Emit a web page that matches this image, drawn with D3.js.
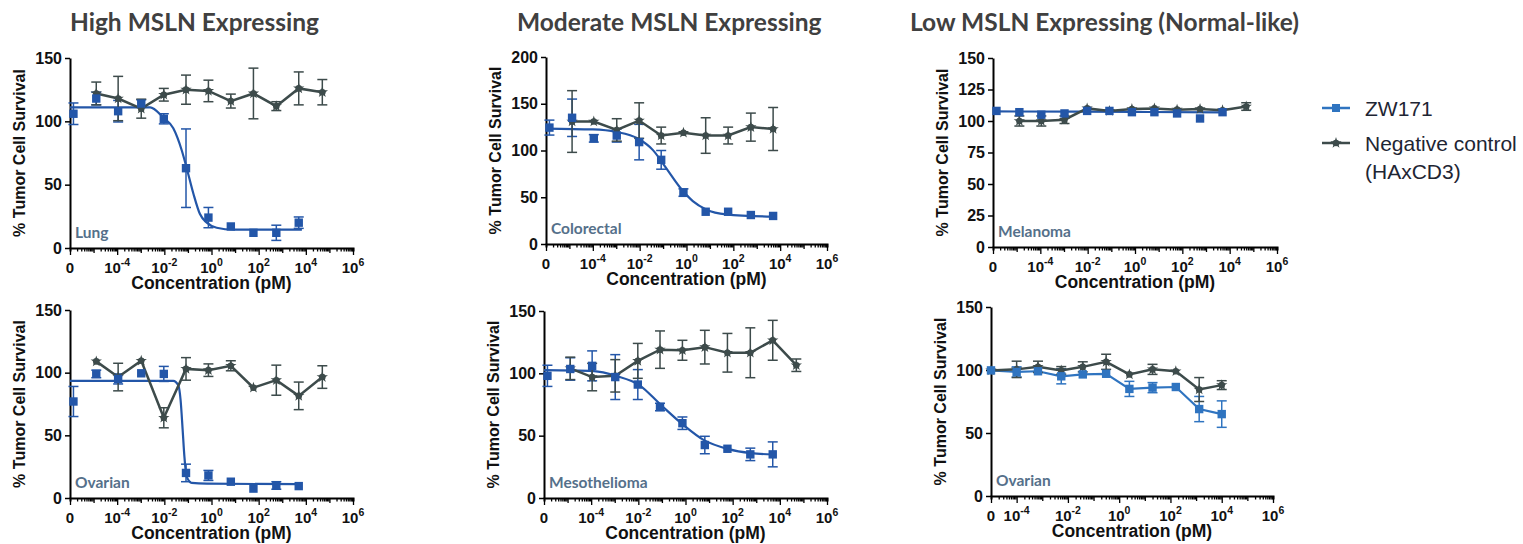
<!DOCTYPE html>
<html lang="en">
<head>
<meta charset="utf-8">
<script src="https://cdn.jsdelivr.net/npm/d3@7"></script>
<style>
  body { margin: 0; background: #fff; }
  svg text { font-family: "Liberation Sans", Arial, sans-serif; }
</style>
</head>
<body>
<script>

// concentrations (pM)
var concA = [1.3e-5, 1.1e-4, 1.05e-3, 9.5e-3, 8.3e-2, 0.74, 6.6, 60, 560, 5000, 50000];
var concB = [1e-4, 6.8e-4, 5.5e-3, 3.8e-2, 0.31, 2.5, 20, 162, 1320, 1e4];

var xTickExp = [-4, -2, 0, 2, 4, 6];

var titles = ["High MSLN Expressing", "Moderate MSLN Expressing", "Low MSLN Expressing (Normal-like)"];
var cellLines = ["Lung", "Colorectal", "Melanoma", "Ovarian", "Mesothelioma", "Ovarian"];
var legendLabels = ["ZW171", "Negative control", "(HAxCD3)"];

// Lung
var zwLung = [106, 118, 108, 114, 102, 63, 24, 17, 12, 12, 20];
var zwLungErr = [8.5, 5, 8.5, 3, 4, 31, 8, 2, 2, 6, 4.5];
var ctlLung = [122, 118, 110, 121, 125, 124, 116, 122, 112, 126, 123];
var ctlLungErr = [9, 17.5, 7.5, 5, 11.5, 8.5, 5.5, 20, 3.5, 13, 10];
var fitLung = [[1e-6, 111], [2.5e-3, 111], [9e-3, 103], [2.4e-2, 94.5], [5.5e-2, 77], [8.9e-2, 63],
  [0.17, 43], [0.32, 27], [0.63, 20], [1.66, 16], [8.5, 14.5], [6800, 14.5]];

// Colorectal
var zwColo = [124.5, 135, 113, 116, 109, 90, 55, 34.5, 34.5, 31, 30];
var zwColoErr = [8, 20, 4, 7, 19, 10, 4, 2, 2, 2, 2];
var ctlColo = [131, 131, 122, 132, 116, 119, 116, 116, 125, 123];
var ctlColoErr = [33, 2, 12, 19, 9, 2, 19, 9, 15, 23];
var fitColo = [[1e-6, 123.5], [1e-4, 122.5], [9.5e-4, 120], [8.5e-3, 112.8], [3.7e-2, 100.4], [0.138, 80.8],
  [0.5, 61.2], [1.86, 45.9], [6.9, 37], [49, 31.7], [4700, 29.2]];

// Melanoma
var zwMela = [108, 107, 105, 106, 108, 108, 107, 107, 106, 102, 107];
var zwMelaErr = [2, 2, 2, 2, 2, 2, 2, 2, 2, 2, 2];
var ctlMela = [100, 100, 101, 110, 108, 109.5, 110, 109, 109.5, 108.5, 111.5];
var ctlMelaErr = [4, 4, 3, 2, 2, 2, 2, 2, 2, 2, 3];
var fitMela = [[1e-6, 107.6], [1, 107.2], [5000, 106.8]];

// Ovarian (high)
var zwOva = [77, 99, 95, 99.5, 99, 20, 18, 13, 7.5, 10, 9.5];
var zwOvaErr = [12, 3, 4, 2, 6, 7, 4, 2, 2, 3, 2];
var ctlOva = [109, 96.5, 109.5, 64, 103, 102, 105.5, 88, 94, 81.5, 96.5];
var ctlOvaErr = [2, 11, 2, 8, 9, 5, 4, 2, 12, 11, 9];
var fitOva = [[1e-6, 93.5], [0.024, 93.5], [0.039, 90], [0.049, 78], [0.06, 54], [0.071, 33],
  [0.089, 17], [0.145, 12], [0.63, 11.4], [5000, 11]];

// Mesothelioma
var zwMeso = [98, 103.5, 106, 97, 91, 73, 60, 42.5, 39.5, 35, 35];
var zwMesoErr = [8.5, 9, 12, 18, 12, 3, 5, 7, 2, 5, 10];
var ctlMeso = [104, 97, 98, 110, 119, 118.5, 121, 116.5, 116.5, 126.5, 106.5];
var ctlMesoErr = [9, 11, 13, 14, 15, 8, 13.5, 15.5, 20, 16, 5];
var fitMeso = [[1e-6, 102.5], [1.3e-4, 101.8], [1.2e-3, 97.8], [1.1e-2, 90.6], [9.1e-2, 74.6],
  [0.81, 58.6], [5.8, 46.6], [66, 39.2], [600, 36], [5200, 34.9]];

// Ovarian (low)
var zwOva2 = [99.7, 98.5, 99, 95, 96.5, 97, 85, 86, 86.5, 69, 65];
var zwOva2Err = [1, 4, 2, 6, 2, 2, 6, 4, 2, 10, 10.5];
var ctlOva2 = [99.7, 100.5, 102.5, 99.7, 102.5, 106.5, 96.5, 100.5, 99, 84.5, 88];
var ctlOva2Err = [1, 6.5, 4.5, 3, 4, 6, 2, 4, 2, 9.5, 3.5];

var blue = "#2356a8";
var blueLight = "#2f74c0";
var gray = "#3d4b4b";
var labelColor = "#55708a";

var w = 1523, h = 544;

var svg = d3.select("body").append("svg")
  .attr("width", w)
  .attr("height", h);

function zip(xs, ys, es) {
  return xs.map(function(c, i) { return { c: c, v: ys[i], e: es ? es[i] : 0 }; });
}

var panels = [
  { left: 70, right: 353, top: 58, bottom: 248, yMax: 150, yTicks: [0, 50, 100, 150], xMin: 1e-6, label: cellLines[0],
    zw: zip([1.4e-6].concat(concA.slice(0, 10)), zwLung, zwLungErr), ctl: zip(concA, ctlLung, ctlLungErr), fit: fitLung, zwColor: blue },
  { left: 546, right: 827, top: 57, bottom: 244, yMax: 200, yTicks: [0, 50, 100, 150, 200], xMin: 1e-6, label: cellLines[1],
    zw: zip([1.4e-6].concat(concA.slice(0, 10)), zwColo, zwColoErr), ctl: zip(concA.slice(0, 10), ctlColo, ctlColoErr), fit: fitColo, zwColor: blue },
  { left: 993, right: 1277, top: 58, bottom: 247, yMax: 150, yTicks: [0, 25, 50, 75, 100, 125, 150], xMin: 1e-6, label: cellLines[2],
    zw: zip([1.4e-6].concat(concA.slice(0, 10)), zwMela, zwMelaErr), ctl: zip(concA, ctlMela, ctlMelaErr), fit: fitMela, zwColor: blue },
  { left: 70, right: 353, top: 310, bottom: 498, yMax: 150, yTicks: [0, 50, 100, 150], xMin: 1e-6, label: cellLines[3],
    zw: zip([1.4e-6].concat(concA.slice(0, 10)), zwOva, zwOvaErr), ctl: zip(concA, ctlOva, ctlOvaErr), fit: fitOva, zwColor: blue },
  { left: 544, right: 827, top: 311, bottom: 498, yMax: 150, yTicks: [0, 50, 100, 150], xMin: 1e-6, label: cellLines[4],
    zw: zip([1.4e-6].concat(concA.slice(0, 10)), zwMeso, zwMesoErr), ctl: zip(concA, ctlMeso, ctlMesoErr), fit: fitMeso, zwColor: blue },
  { left: 991, right: 1273, top: 307, bottom: 496, yMax: 150, yTicks: [0, 50, 100, 150], xMin: 1e-5, label: cellLines[5],
    zw: zip([1e-5].concat(concB), zwOva2, zwOva2Err), ctl: zip([1e-5].concat(concB), ctlOva2, ctlOva2Err), fit: null, zwColor: blueLight }
];

panels.forEach(drawPanel);

// column titles
var titleX = [70, 517, 910];
svg.selectAll(".title")
  .data(titles)
  .enter()
  .append("text")
  .attr("class", "title")
  .attr("x", function(d, i) { return titleX[i]; })
  .attr("y", 31)
  .style("font-family", "Lato, 'Open Sans', sans-serif")
  .style("font-weight", 700)
  .style("font-size", "24.5px")
  .attr("fill", "#404040")
  .text(function(d) { return d; });

// legend
var lg = svg.append("g");
lg.append("line").attr("x1", 1322).attr("x2", 1350).attr("y1", 108).attr("y2", 108)
  .attr("stroke", blueLight).attr("stroke-width", 2.5);
lg.append("rect").attr("x", 1332).attr("y", 104).attr("width", 8).attr("height", 8).attr("fill", blueLight);
lg.append("line").attr("x1", 1322).attr("x2", 1350).attr("y1", 143).attr("y2", 143)
  .attr("stroke", gray).attr("stroke-width", 2.5);
lg.append("path").attr("transform", "translate(1336,143)")
  .attr("d", d3.symbol().type(d3.symbolStar).size(40)()).attr("fill", gray);
lg.append("circle").attr("cx", 1336).attr("cy", 143).attr("r", 3.3).attr("fill", gray);
lg.selectAll("text")
  .data(legendLabels)
  .enter()
  .append("text")
  .attr("x", 1365)
  .attr("y", function(d, i) { return [116, 151, 179][i]; })
  .style("font-size", "21px")
  .attr("fill", "#1e2533")
  .text(function(d) { return d; });

function drawPanel(p) {
  var g = svg.append("g");

  var x = d3.scaleLog().domain([p.xMin, 1e6]).range([p.left, p.right]);
  var y = d3.scaleLinear().domain([0, p.yMax]).range([p.bottom, p.top]);

  var e0 = Math.round(Math.log10(p.xMin));
  var vals = [];
  d3.range(e0, 6).forEach(function(e) {
    d3.range(1, 10).forEach(function(k) { vals.push(k * Math.pow(10, e)); });
  });
  vals.push(1e6);

  var gx = g.append("g")
    .attr("transform", "translate(0," + p.bottom + ")")
    .call(d3.axisBottom(x).tickValues(vals).tickFormat("").tickSizeOuter(0).tickSize(3.5));
  gx.selectAll(".tick line")
    .attr("y2", function(d) {
      var l = Math.log10(d);
      var r = Math.round(l);
      if (Math.abs(l - r) < 1e-6) return (r % 2 == 0 || r == e0) ? 7 : 5;
      return 3.5;
    })
    .attr("stroke-width", 1.3);
  gx.select(".domain").attr("stroke-width", 2);

  // x tick labels
  var lbl = g.append("g").style("font-weight", "bold").style("font-size", "15px").attr("fill", "#111");
  lbl.append("text")
    .attr("x", x(p.xMin)).attr("y", p.bottom + 25)
    .attr("text-anchor", "middle")
    .text("0");
  xTickExp.filter(function(e) { return e > e0; }).forEach(function(e) {
    var t = lbl.append("text")
      .attr("x", x(Math.pow(10, e))).attr("y", p.bottom + 25)
      .attr("text-anchor", "middle");
    t.append("tspan").text("10");
    t.append("tspan").attr("dy", -7).style("font-size", "10.5px").text(e);
  });

  var gy = g.append("g")
    .attr("transform", "translate(" + p.left + ",0)")
    .call(d3.axisLeft(y).tickValues(p.yTicks).tickSize(5).tickPadding(3).tickSizeOuter(0));
  gy.select(".domain").attr("stroke-width", 2);
  gy.selectAll(".tick line").attr("stroke-width", 1.5);
  gy.selectAll(".tick text")
    .style("font-family", "'Liberation Sans', Arial, sans-serif")
    .style("font-weight", "bold")
    .style("font-size", "16px")
    .attr("fill", "#111");

  g.append("text")
    .attr("x", (p.left + p.right) / 2)
    .attr("y", p.bottom + 41)
    .attr("text-anchor", "middle")
    .style("font-weight", "bold")
    .style("font-size", "17.5px")
    .attr("fill", "#111")
    .text("Concentration (pM)");

  g.append("text")
    .attr("transform", "translate(" + (p.left - 45) + "," + ((p.top + p.bottom) / 2) + ") rotate(-90)")
    .attr("text-anchor", "middle")
    .style("font-weight", "bold")
    .style("font-size", "16px")
    .attr("fill", "#111")
    .text("% Tumor Cell Survival");

  g.append("text")
    .attr("x", p.left + 5)
    .attr("y", p.bottom - 10)
    .style("font-family", "Lato, 'Open Sans', sans-serif")
    .style("font-weight", 700)
    .style("font-size", "15.5px")
    .attr("fill", labelColor)
    .text(p.label);

  var line = d3.line()
    .x(function(d) { return x(d[0]); })
    .y(function(d) { return y(d[1]); });

  // ZW171: fitted curve (or connecting line) + error bars
  if (p.fit) {
    g.append("path")
      .datum(p.fit)
      .attr("d", line.curve(d3.curveMonotoneX))
      .attr("fill", "none")
      .attr("stroke", p.zwColor)
      .attr("stroke-width", 2.2);
  } else {
    g.append("path")
      .datum(p.zw.map(function(d) { return [d.c, d.v]; }))
      .attr("d", line.curve(d3.curveLinear))
      .attr("fill", "none")
      .attr("stroke", p.zwColor)
      .attr("stroke-width", 2.2);
  }
  drawErrors(g, p.zw, x, y, p.zwColor);

  // negative control
  g.append("path")
    .datum(p.ctl.map(function(d) { return [d.c, d.v]; }))
    .attr("d", line.curve(d3.curveLinear))
    .attr("fill", "none")
    .attr("stroke", gray)
    .attr("stroke-width", 2.5);
  drawErrors(g, p.ctl, x, y, gray);
  var pts = g.selectAll(".ctlpt")
    .data(p.ctl)
    .enter()
    .append("g")
    .attr("transform", function(d) { return "translate(" + x(d.c) + "," + y(d.v) + ")"; });
  pts.append("path")
    .attr("d", d3.symbol().type(d3.symbolStar).size(40)())
    .attr("fill", gray);
  pts.append("circle")
    .attr("r", 3.3)
    .attr("fill", gray);

  g.selectAll(".zwpt")
    .data(p.zw)
    .enter()
    .append("rect")
    .attr("x", function(d) { return x(d.c) - 4.2; })
    .attr("y", function(d) { return y(d.v) - 4.2; })
    .attr("width", 8.4)
    .attr("height", 8.4)
    .attr("fill", p.zwColor);
}

function drawErrors(g, data, x, y, color) {
  var eg = g.append("g").attr("stroke", color).attr("stroke-width", 1.5);
  data.forEach(function(d) {
    if (d.e < 2.5) return;
    var cx = x(d.c);
    eg.append("line").attr("x1", cx).attr("x2", cx).attr("y1", y(d.v - d.e)).attr("y2", y(d.v + d.e));
    eg.append("line").attr("x1", cx - 5).attr("x2", cx + 5).attr("y1", y(d.v - d.e)).attr("y2", y(d.v - d.e));
    eg.append("line").attr("x1", cx - 5).attr("x2", cx + 5).attr("y1", y(d.v + d.e)).attr("y2", y(d.v + d.e));
  });
}
</script>
</body>
</html>
